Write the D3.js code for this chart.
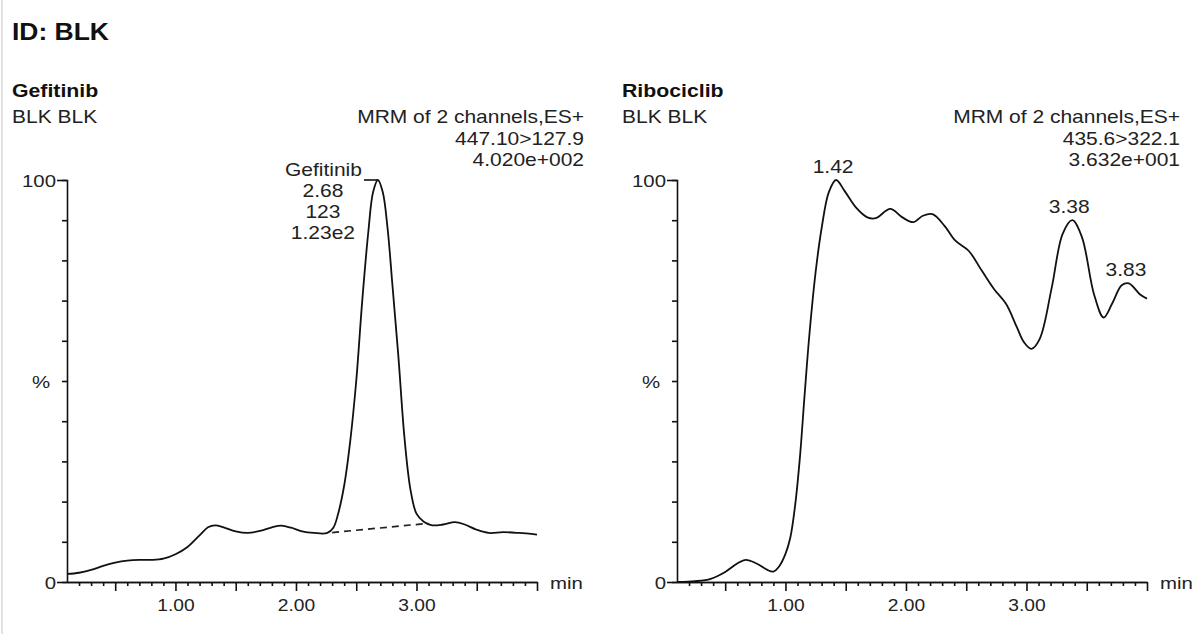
<!DOCTYPE html>
<html>
<head>
<meta charset="UTF-8">
<title>ID: BLK</title>
<script src="https://cdn.jsdelivr.net/npm/d3@7"></script>
<style>
  body { margin: 0; background: #fff; }
  svg { display: block; }
  text { font-family: "Liberation Sans", Arial, sans-serif; fill: #222; }
  .axis path, .axis line { stroke: #111; stroke-width: 1.6; }
  .axis text { font-size: 16px; fill: #222; }
</style>
</head>
<body>
<svg id="chart" width="1195" height="634"></svg>
<script>
// Gefitinib channel (time in min, intensity in %)
var gefTime = [0.10, 0.20, 0.30, 0.40, 0.50, 0.60, 0.70, 0.80, 0.90, 1.00, 1.10, 1.20, 1.27, 1.33, 1.40, 1.50, 1.60, 1.70, 1.80, 1.88, 1.96, 2.05, 2.15, 2.26, 2.31, 2.35, 2.40, 2.45, 2.50, 2.55, 2.60, 2.64, 2.68, 2.72, 2.76, 2.80, 2.85, 2.90, 2.95, 3.00, 3.06, 3.13, 3.22, 3.32, 3.40, 3.50, 3.60, 3.72, 3.85, 4.00];
var gefPct  = [2.0, 2.3, 3.0, 4.0, 4.8, 5.3, 5.5, 5.5, 5.8, 6.9, 8.7, 11.6, 13.6, 14.1, 13.6, 12.6, 12.2, 12.7, 13.6, 14.0, 13.5, 12.6, 12.2, 12.2, 13.5, 17, 24, 35, 50, 70, 87, 97, 100, 97, 88, 74, 56, 36, 23, 17, 15, 14.1, 14.3, 14.9, 14.3, 13.0, 12.2, 12.4, 12.2, 11.8];
var gefBaseT = [2.30, 3.10];
var gefBaseP = [12.3, 14.6];
var gefPeakLabel = ["Gefitinib", "2.68", "123", "1.23e2"];

// Ribociclib channel
var ribTime = [0.10, 0.25, 0.38, 0.50, 0.60, 0.67, 0.76, 0.85, 0.90, 0.95, 1.00, 1.04, 1.08, 1.12, 1.16, 1.20, 1.25, 1.30, 1.36, 1.42, 1.49, 1.59, 1.68, 1.75, 1.87, 1.97, 2.06, 2.14, 2.22, 2.32, 2.41, 2.52, 2.63, 2.73, 2.83, 2.92, 2.98, 3.04, 3.11, 3.21, 3.30, 3.38, 3.46, 3.56, 3.64, 3.71, 3.79, 3.85, 3.94, 4.00];
var ribPct  = [0, 0.2, 0.8, 2.5, 4.6, 5.5, 4.6, 3.0, 2.6, 4.0, 7.0, 11, 19, 31, 47, 62, 77, 88, 97, 100, 97.3, 93, 90.7, 90.5, 92.8, 90.7, 89.5, 91.1, 91.5, 88.6, 84.9, 82.4, 77.4, 72.9, 69.2, 63.4, 59.6, 58, 60.5, 73.3, 86.6, 90, 85.8, 71.6, 65.8, 69.2, 73.8, 74.3, 71.6, 70.5];
var ribPeakT = [1.42, 3.38, 3.85];
var ribPeakP = [100, 90, 74.3];
var ribPeakLabel = ["1.42", "3.38", "3.83"];

// header texts
var compounds = ["Gefitinib", "Ribociclib"];
var sampleText = ["BLK BLK", "BLK BLK"];
var scanText = ["MRM of 2 channels,ES+", "MRM of 2 channels,ES+"];
var transitions = ["447.10>127.9", "435.6>322.1"];
var maxIntensity = ["4.020e+002", "3.632e+001"];

// axis ticks
var xMajorLabels = [1, 2, 3];
var yTickValues = [0, 10, 20, 30, 40, 50, 60, 70, 80, 90, 100];

var SX = 1.2; // the source is a bit stretched sideways
var svg = d3.select("#chart");

function txt(g, x, y, s, size, weight, anchor, sx) {
  return g.append("text")
    .attr("transform", "translate(" + x + "," + y + ") scale(" + (sx || SX) + ",1)")
    .attr("text-anchor", anchor || "start")
    .style("font-size", size + "px")
    .style("font-weight", weight || "normal")
    .text(s);
}

// faint page edge
svg.append("line").attr("x1", 2).attr("x2", 2).attr("y1", 0).attr("y2", 634)
  .attr("stroke", "#d8d8d8").attr("stroke-width", 1.5);

txt(svg, 12, 40, "ID: BLK", 23, "bold", null, 1.15).style("fill", "#111");

function drawPanel(i, ox, rightEdge, times, pcts) {
  var g = svg.append("g");
  var x = d3.scaleLinear().domain([0.1, 4.0]).range([ox + 67, ox + 537]);
  var y = d3.scaleLinear().domain([0, 100]).range([582, 180]);

  txt(g, ox + 12, 97, compounds[i], 18.5, "bold", null, 1.15).style("fill", "#111");
  txt(g, ox + 12, 123, sampleText[i], 17.5);
  txt(g, rightEdge, 123, scanText[i], 17.5, null, "end");
  txt(g, rightEdge, 145, transitions[i], 17.5, null, "end");
  txt(g, rightEdge, 166, maxIntensity[i], 17.5, null, "end");

  // x axis: minor ticks each 0.1 min, longer each 0.5
  var minor = d3.range(2, 41).map(function(d) { return d / 10; }).filter(function(d) { return Math.round(d * 10) % 5 !== 0; });
  var half = d3.range(1, 9).map(function(d) { return d / 2; }).filter(function(d) { return d < 4.01; });
  g.append("g").attr("class", "axis").attr("transform", "translate(0,582)")
    .call(d3.axisBottom(x).tickValues(minor).tickSize(4).tickSizeOuter(0).tickFormat(""));
  var xa = g.append("g").attr("class", "axis").attr("transform", "translate(0,582)")
    .call(d3.axisBottom(x).tickValues(half).tickSize(9).tickSizeOuter(0)
      .tickFormat(function(d) { return xMajorLabels.indexOf(d) >= 0 ? d3.format(".2f")(d) : ""; }));
  xa.selectAll(".tick text").attr("transform", "scale(" + SX + ",1)").attr("dy", "1.05em");
  txt(g, ox + 550, 589, "min", 17);

  // y axis
  var ya = g.append("g").attr("class", "axis").attr("transform", "translate(" + (ox + 67) + ",0)")
    .call(d3.axisLeft(y).tickValues(yTickValues).tickSizeOuter(0)
      .tickSize(5).tickFormat(function(d) { return d === 0 || d === 100 ? d : (d === 50 ? "%" : ""); }));
  ya.selectAll(".tick line").attr("x2", function(d) { return d === 0 || d === 100 ? -10 : -5; });
  ya.selectAll(".tick text")
    .style("font-size", "17px")
    .attr("transform", "scale(" + SX + ",1)")
    .attr("dy", "0.36em")
    .attr("x", function(d) { return (d === 50 ? -17 : -11) / SX; });

  var line = d3.line()
    .x(function(d, k) { return x(times[k]); })
    .y(function(d, k) { return y(pcts[k]); })
    .curve(d3.curveCatmullRom.alpha(0.5));
  g.append("path").attr("d", line(times))
    .attr("fill", "none").attr("stroke", "#111").attr("stroke-width", 1.8);

  return { g: g, x: x, y: y };
}

var p1 = drawPanel(0, 0, 584, gefTime, gefPct);
var p2 = drawPanel(1, 610, 1180, ribTime, ribPct);

// Gefitinib integration baseline and peak label
p1.g.append("line")
  .attr("x1", p1.x(gefBaseT[0])).attr("y1", p1.y(gefBaseP[0]))
  .attr("x2", p1.x(gefBaseT[1])).attr("y2", p1.y(gefBaseP[1]))
  .attr("stroke", "#222").attr("stroke-width", 1.7).attr("stroke-dasharray", "7,5");
var apexX = p1.x(2.68), apexY = p1.y(100);
p1.g.append("line").attr("x1", apexX - 14).attr("x2", apexX).attr("y1", apexY).attr("y2", apexY)
  .attr("stroke", "#111").attr("stroke-width", 1.6);
txt(p1.g, apexX - 16, apexY - 4, gefPeakLabel[0], 17.5, null, "end");
gefPeakLabel.slice(1).forEach(function(s, k) {
  txt(p1.g, apexX - 55, apexY + 17 + k * 21, s, 17.5, null, "middle");
});

// Ribociclib peak labels
ribPeakLabel.forEach(function(s, k) {
  txt(p2.g, p2.x(ribPeakT[k]) - 3, p2.y(ribPeakP[k]) - 7, s, 17.5, null, "middle");
});
</script>
</body>
</html>
